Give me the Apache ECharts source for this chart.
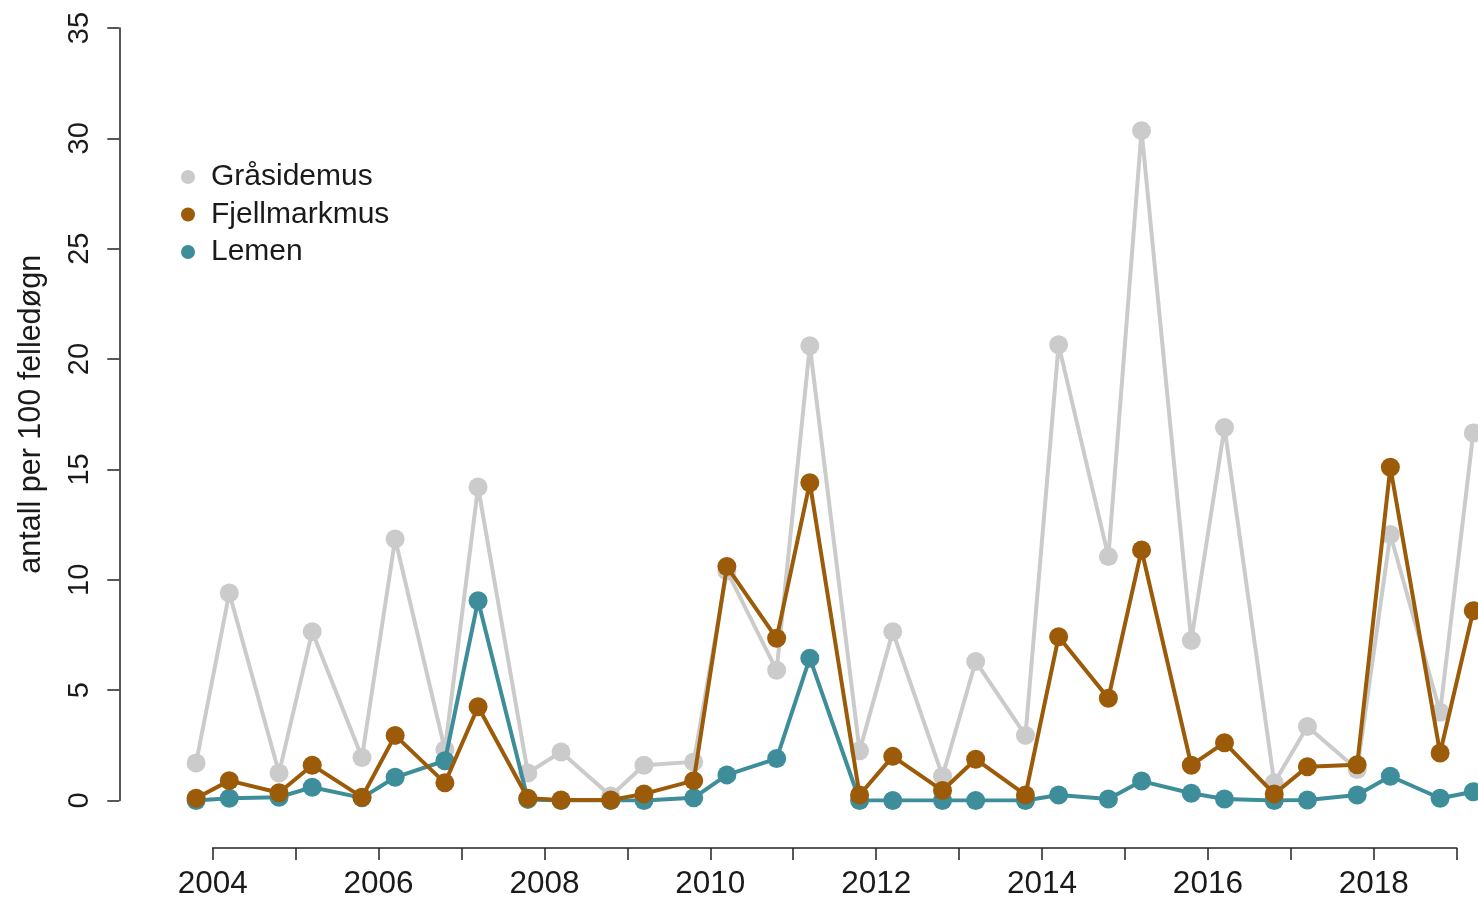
<!DOCTYPE html>
<html>
<head>
<meta charset="utf-8">
<script src="https://cdn.jsdelivr.net/npm/echarts@6/dist/echarts.min.js"></script>
<style>
html,body{margin:0;padding:0;background:#fff;}
#chart{width:1478px;height:900px;}
</style>
</head>
<body>
<div id="chart"></div>
<script>
// Sampling times (spring ≈ year+0.2, autumn ≈ year+0.8)
const periods = [2003.8, 2004.2, 2004.8, 2005.2, 2005.8, 2006.2, 2006.8, 2007.2,
  2007.8, 2008.2, 2008.8, 2009.2, 2009.8, 2010.2, 2010.8, 2011.2,
  2011.8, 2012.2, 2012.8, 2013.2, 2013.8, 2014.2, 2014.8, 2015.2,
  2015.8, 2016.2, 2016.8, 2017.2, 2017.8, 2018.2, 2018.8, 2019.2];

const grasidemus = [1.7, 9.4, 1.25, 7.65, 1.95, 11.85, 2.3, 14.2,
  1.25, 2.2, 0.2, 1.6, 1.75, 10.4, 5.9, 20.6,
  2.25, 7.65, 1.1, 6.3, 2.95, 20.65, 11.05, 30.35,
  7.25, 16.9, 0.8, 3.35, 1.4, 12.05, 4.0, 16.65];

const fjellmarkmus = [0.1, 0.9, 0.35, 1.6, 0.15, 2.95, 0.8, 4.25,
  0.1, 0.02, 0.02, 0.3, 0.9, 10.6, 7.35, 14.4,
  0.25, 2.0, 0.45, 1.87, 0.25, 7.42, 4.63, 11.35,
  1.6, 2.62, 0.3, 1.53, 1.62, 15.1, 2.15, 8.6];

const lemen = [0.0, 0.1, 0.15, 0.6, 0.12, 1.05, 1.8, 9.05,
  0.05, 0.0, 0.0, 0.0, 0.12, 1.16, 1.9, 6.45,
  0.0, 0.0, 0.0, 0.0, 0.0, 0.25, 0.07, 0.88,
  0.33, 0.07, 0.0, 0.02, 0.25, 1.1, 0.1, 0.4];

const seriesNames = ['Gråsidemus', 'Fjellmarkmus', 'Lemen'];
const yTicks = [0, 5, 10, 15, 20, 25, 30, 35];
const xAxisYears = [2004, 2019];          // span of the drawn year axis
const xLabelYears = [2004, 2006, 2008, 2010, 2012, 2014, 2016, 2018];
const yTitle = 'antall per 100 felledøgn';

const colors = {
  'Gråsidemus': '#cbcbcb',
  'Fjellmarkmus': '#9c5b08',
  'Lemen': '#3d8e9a'
};

const FONT = '"Liberation Sans", Arial, sans-serif';
const TXT = '#1a1a1a';

// layout (pixels)
const CHART_W = 1478;
const PLOT_TOP = 28, PLOT_H = 772.5;
const YAXIS_X = 119.3;                     // where the y axis line sits
const XAXIS_LEFT = 212.7, XAXIS_W = 1244;  // drawn year axis from first to last year
const pxPerYear = XAXIS_W / (xAxisYears[1] - xAxisYears[0]);
const dataW = CHART_W - YAXIS_X;
const dataMin = xAxisYears[0] - (XAXIS_LEFT - YAXIS_X) / pxPerYear;
const dataMax = dataMin + dataW / pxPerYear;

function pairs(vals) { return periods.map((p, i) => [p, vals[i]]); }

function mkSeries(name, vals, z) {
  return {
    name: name,
    type: 'line',
    xAxisIndex: 0,
    yAxisIndex: 0,
    data: pairs(vals),
    symbol: 'circle',
    symbolSize: 19,
    z: z,
    lineStyle: { color: colors[name], width: 4 },
    itemStyle: { color: colors[name] },
    emphasis: { disabled: true },
    silent: true
  };
}

const axisCol = '#222';

const chart = echarts.init(document.getElementById('chart'), null, { renderer: 'canvas' });
chart.setOption({
  animation: false,
  backgroundColor: '#ffffff',
  textStyle: { fontFamily: FONT },
  legend: {
    data: seriesNames,
    orient: 'vertical',
    left: 176,
    top: 156,
    icon: 'circle',
    itemWidth: 14,
    itemHeight: 14,
    itemGap: 5.5,
    selectedMode: false,
    textStyle: { fontFamily: FONT, fontSize: 30, color: TXT, lineHeight: 32, padding: [0, 0, 0, 11] }
  },
  grid: [
    { left: YAXIS_X, top: PLOT_TOP, width: dataW, height: PLOT_H, containLabel: false },
    { left: XAXIS_LEFT, top: PLOT_TOP, width: XAXIS_W, height: PLOT_H, containLabel: false }
  ],
  xAxis: [
    {
      gridIndex: 0,
      type: 'value',
      min: dataMin,
      max: dataMax,
      show: false,
      splitLine: { show: false }
    },
    {
      gridIndex: 1,
      type: 'value',
      min: xAxisYears[0],
      max: xAxisYears[1],
      interval: 1,
      offset: 48.5,
      splitLine: { show: false },
      axisLine: { show: true, onZero: false, lineStyle: { color: axisCol, width: 1.5 } },
      axisTick: { show: true, inside: false, length: 12, lineStyle: { color: axisCol, width: 1.5 } },
      axisLabel: {
        margin: 20,
        fontFamily: FONT,
        fontSize: 31.5,
        color: TXT,
        formatter: function (v) { return xLabelYears.indexOf(Math.round(v)) >= 0 ? String(Math.round(v)) : ''; }
      }
    }
  ],
  yAxis: [
    {
      gridIndex: 0,
      type: 'value',
      min: yTicks[0],
      max: yTicks[yTicks.length - 1],
      interval: 5,
      name: yTitle,
      nameLocation: 'middle',
      nameRotate: 90,
      nameGap: 72,
      nameTextStyle: { fontFamily: FONT, fontSize: 30.5, color: TXT },
      splitLine: { show: false },
      axisLine: { show: true, onZero: false, lineStyle: { color: axisCol, width: 1.5 } },
      axisTick: { show: true, inside: false, length: 12, lineStyle: { color: axisCol, width: 1.5 } },
      axisLabel: { rotate: 90, margin: 25, fontFamily: FONT, fontSize: 29, color: TXT }
    },
    {
      gridIndex: 1,
      type: 'value',
      min: yTicks[0],
      max: yTicks[yTicks.length - 1],
      show: false,
      splitLine: { show: false }
    }
  ],
  series: [
    mkSeries('Gråsidemus', grasidemus, 2),
    mkSeries('Lemen', lemen, 3),
    mkSeries('Fjellmarkmus', fjellmarkmus, 4)
  ]
});
</script>
</body>
</html>
